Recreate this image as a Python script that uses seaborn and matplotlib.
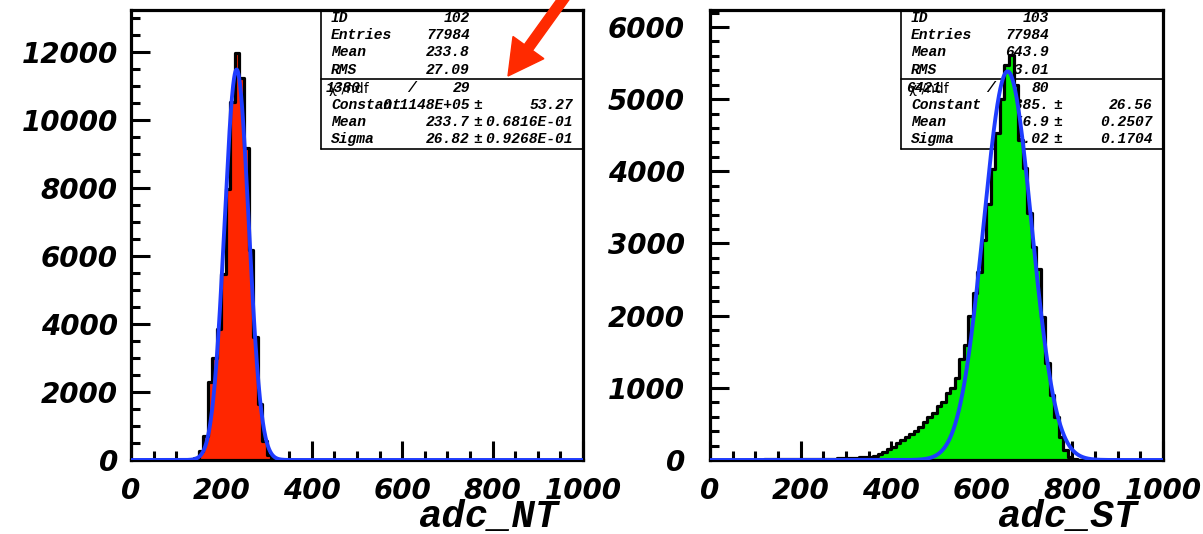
import numpy as np
import pandas as pd
import matplotlib
matplotlib.use("Agg")
import matplotlib.pyplot as plt
import seaborn as sns
from matplotlib.patches import FancyArrow
from matplotlib.lines import Line2D
from matplotlib.font_manager import FontProperties

# ---------------- data ----------------
bin_width = 10
x_range = (0, 1000)

nt_bin_start = [140, 150, 160, 170, 180, 190, 200, 210, 220, 230, 240, 250,
                260, 270, 280, 290, 300, 310, 320]
nt_counts = [60, 270, 700, 2300, 3000, 3850, 5480, 7960, 10530, 11955, 11240,
             9185, 6180, 3630, 1645, 565, 150, 40, 10]

st_bin_start = [100, 110, 120, 130, 140, 150, 160, 170, 180, 190, 200, 210,
                220, 230, 240, 250, 260, 270, 280, 290, 300, 310, 320, 330,
                340, 350, 360, 370, 380, 390, 400, 410, 420, 430, 440, 450,
                460, 470, 480, 490, 500, 510, 520, 530, 540, 550, 560, 570,
                580, 590, 600, 610, 620, 630, 640, 650, 660, 670, 680, 690,
                700, 710, 720, 730, 740, 750, 760, 770, 780, 790, 800, 810]
st_counts = [5, 5, 8, 8, 10, 10, 12, 10, 12, 12, 14, 12,
             15, 15, 18, 18, 20, 20, 22, 22, 25, 28, 30, 35,
             40, 45, 55, 83, 115, 148, 185, 232, 278, 324, 365, 407,
             463, 532, 602, 657, 750, 810, 935, 995, 1135, 1400, 1600, 1990,
             2315, 2600, 3050, 3550, 4030, 4530, 5000, 5470, 5610, 5200, 4430, 4040,
             3420, 2950, 2640, 1985, 1340, 900, 600, 323, 139, 40, 15, 5]

# Gaussian fit parameters shown in the stat boxes
nt_fit_const, nt_fit_mean, nt_fit_sigma = 11480.0, 233.7, 26.82
st_fit_const, st_fit_mean, st_fit_sigma = 5385.0, 656.9, 53.02

x_ticks = [0, 200, 400, 600, 800, 1000]
nt_y_ticks = [0, 2000, 4000, 6000, 8000, 10000, 12000]
st_y_ticks = [0, 1000, 2000, 3000, 4000, 5000, 6000]
nt_ymax = 13230
st_ymax = 6235

nt_title = "adc_NT"
st_title = "adc_ST"

nt_stats_names = ["ID", "Entries", "Mean", "RMS"]
nt_stats_values = ["102", "77984", "233.8", "27.09"]
nt_chi2, nt_ndf = "1380", "29"
nt_par_names = ["Constant", "Mean", "Sigma"]
nt_par_values = ["0.1148E+05", "233.7", "26.82"]
nt_par_errors = ["53.27", "0.6816E-01", "0.9268E-01"]

st_stats_names = ["ID", "Entries", "Mean", "RMS"]
st_stats_values = ["103", "77984", "643.9", "73.01"]
st_chi2, st_ndf = "6421", "80"
st_par_names = ["Constant", "Mean", "Sigma"]
st_par_values = ["5385.", "656.9", "53.02"]
st_par_errors = ["26.56", "0.2507", "0.1704"]

# ---------------- style ----------------
RED = "#ff2600"
GREEN = "#00ee00"
BLUE = "#1f3cff"
ARROW_RED = "#ff2a00"

sns.set_style("ticks")
plt.rcParams["font.family"] = ["DejaVu Sans"]
plt.rcParams["text.color"] = "black"
plt.rcParams["xtick.color"] = "black"
plt.rcParams["ytick.color"] = "black"
plt.rcParams["xtick.labelcolor"] = "black"
plt.rcParams["ytick.labelcolor"] = "black"

W, H = 1203, 534
fig = plt.figure(figsize=(W / 100, H / 100), dpi=100)


def fx(px):
    return px / W


def fy(py):
    return 1 - py / H


tick_fp = FontProperties(family="DejaVu Sans", style="oblique", weight="bold", size=20)
stat_fp = FontProperties(family="Liberation Mono", style="italic", weight="bold", size=10.5)
chi_fp = FontProperties(family="DejaVu Sans", size=10)
title_fp = FontProperties(family="Liberation Mono", style="italic", weight="bold", size=28)


def full_hist(starts, counts):
    edges = np.arange(x_range[0], x_range[1] + bin_width, bin_width)
    centers = edges[:-1] + bin_width / 2
    values = np.zeros(len(centers))
    for s, c in zip(starts, counts):
        values[int((s - x_range[0]) // bin_width)] = c
    return [float(e) for e in edges], pd.DataFrame({"adc": centers, "n": values})


def draw_panel(ax, starts, counts, color, fit, yticks, ymax, ypad, minor_y):
    edges, df = full_hist(starts, counts)
    sns.histplot(data=df, x="adc", weights="n", bins=edges, element="step",
                 fill=True, color=color, alpha=1, edgecolor="black",
                 linewidth=2.3, ax=ax, zorder=3)
    const, mean, sigma = fit
    xs = np.linspace(x_range[0], x_range[1], 2001)
    ys = const * np.exp(-0.5 * ((xs - mean) / sigma) ** 2)
    sns.lineplot(x=xs, y=ys, color=BLUE, linewidth=2.8, ax=ax, zorder=4)
    ax.set_xlim(*x_range)
    ax.set_ylim(0, ymax)
    ax.set_xlabel("")
    ax.set_ylabel("")
    ax.set_xticks(x_ticks, labels=[str(t) for t in x_ticks], fontproperties=tick_fp)
    ax.set_xticks(np.arange(0, 1001, 50), minor=True)
    ax.set_yticks(yticks, labels=[str(t) for t in yticks], fontproperties=tick_fp)
    ax.set_yticks(np.arange(0, ymax, minor_y), minor=True)
    ax.tick_params(which="both", direction="in", top=False, right=False,
                   width=2.2, color="black", labelcolor="black")
    ax.tick_params(which="major", length=13.5)
    ax.tick_params(which="minor", length=6.5)
    ax.tick_params(axis="x", which="major", pad=12)
    ax.tick_params(axis="y", which="major", pad=ypad)
    for sp in ax.spines.values():
        sp.set_visible(True)
        sp.set_linewidth(2.3)
        sp.set_color("black")
    ax.grid(False)


def stat_box(ax, x0, x1, val_right, pm_x, err_right, names, values, chi2, ndf,
             slash_x, chi_x, pnames, pvals, perrs):
    lw = 1.2
    for line in [([x0, x0], [10, 149]), ([x0, x1], [149, 149]), ([x0, x1], [79, 79])]:
        ax.add_line(Line2D([fx(v) for v in line[0]], [fy(v) for v in line[1]],
                           transform=fig.transFigure, color="black", lw=lw,
                           zorder=1.5, clip_on=False))
    rows = [18, 35, 52.5, 70]
    name_x = x0 + 10
    kw = dict(transform=fig.transFigure, fontproperties=stat_fp, va="center",
              zorder=2, clip_on=False, color="black")
    for y, n, v in zip(rows, names, values):
        ax.text(fx(name_x), fy(y), n, ha="left", **kw)
        ax.text(fx(val_right), fy(y), v, ha="right", **kw)
    y = 88
    ax.text(fx(chi_x), fy(y), chi2, ha="left", **kw)
    ax.text(fx(chi_x + 3), fy(y + 1), "χ²/ndf", transform=fig.transFigure, fontproperties=chi_fp,
            ha="left", va="center", zorder=2, clip_on=False, color="black")
    ax.text(fx(slash_x), fy(y), "/", ha="center", **kw)
    ax.text(fx(val_right), fy(y), ndf, ha="right", **kw)
    for y, n, v, e in zip([105, 122, 139], pnames, pvals, perrs):
        ax.text(fx(name_x), fy(y), n, ha="left", **kw)
        ax.text(fx(val_right), fy(y), v, ha="right", **kw)
        ax.text(fx(pm_x), fy(y), "±", ha="left", **kw)
        ax.text(fx(err_right), fy(y), e, ha="right", **kw)


# left panel
ax1 = fig.add_axes([fx(131), fy(460), fx(583) - fx(131), fy(10) - fy(460)])
draw_panel(ax1, nt_bin_start, nt_counts, RED,
           (nt_fit_const, nt_fit_mean, nt_fit_sigma), nt_y_ticks, nt_ymax, 9.5, 500)
stat_box(ax1, 321, 583, 470, 473, 573, nt_stats_names, nt_stats_values,
         nt_chi2, nt_ndf, 412, 326, nt_par_names, nt_par_values, nt_par_errors)

# right panel
ax2 = fig.add_axes([fx(710), fy(460), fx(1163) - fx(710), fy(10) - fy(460)])
draw_panel(ax2, st_bin_start, st_counts, GREEN,
           (st_fit_const, st_fit_mean, st_fit_sigma), st_y_ticks, st_ymax, 18, 200)
stat_box(ax2, 901, 1163, 1049, 1053, 1153, st_stats_names, st_stats_values,
         st_chi2, st_ndf, 991, 906, st_par_names, st_par_values, st_par_errors)

# axis titles
fig.text(fx(558), fy(517), nt_title, ha="right", va="center", fontproperties=title_fp, color="black")
fig.text(fx(1137), fy(517), st_title, ha="right", va="center", fontproperties=title_fp, color="black")

# red arrow (annotation)
fig.add_artist(FancyArrow(5.72, 5.47, -0.64, -0.89, width=0.10, head_width=0.38,
                          head_length=0.35, length_includes_head=True,
                          color=ARROW_RED, transform=fig.dpi_scale_trans,
                          zorder=10))

fig.savefig("out.png", dpi=100, facecolor="white")
